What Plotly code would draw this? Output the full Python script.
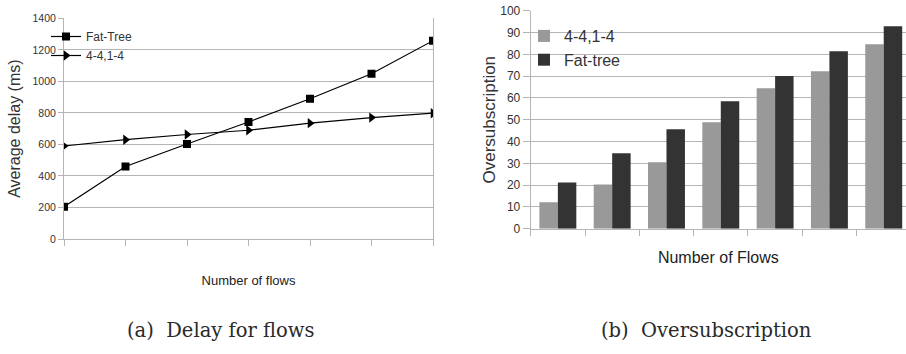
import plotly.graph_objects as go

# ---- data ----
flow_steps = [1, 2, 3, 4, 5, 6, 7]
delay_fat_tree = [205, 460, 603, 742, 890, 1048, 1258]
delay_441 = [590, 630, 663, 690, 735, 770, 798]

flow_cats = ["1", "2", "3", "4", "5", "6", "7"]
oversub_441 = [12.1, 20.3, 30.5, 48.8, 64.4, 72.2, 84.6]
oversub_fat_tree = [21.2, 34.6, 45.6, 58.5, 70.0, 81.4, 92.9]

W, H = 906, 354
GRID = "#b5b5b5"
SANS = "Liberation Sans, Arial"
SERIF = "DejaVu Serif"

fig = go.Figure()

# left: line chart
fig.add_trace(go.Scatter(
    x=flow_steps, y=delay_fat_tree, name="Fat-Tree", mode="lines+markers",
    line=dict(color="black", width=1.2),
    marker=dict(symbol="square", size=8, color="black"),
    xaxis="x", yaxis="y", legend="legend"))
fig.add_trace(go.Scatter(
    x=flow_steps, y=delay_441, name="4-4,1-4", mode="lines+markers",
    line=dict(color="black", width=1.2),
    marker=dict(symbol="triangle-right", size=9, color="black"),
    xaxis="x", yaxis="y", legend="legend"))

# right: bar chart
fig.add_trace(go.Bar(
    x=flow_cats, y=oversub_441, name="4-4,1-4", marker=dict(color="#999999", line=dict(width=0)),
    xaxis="x2", yaxis="y2", legend="legend2"))
fig.add_trace(go.Bar(
    x=flow_cats, y=oversub_fat_tree, name="Fat-tree", marker=dict(color="#333333", line=dict(width=0)),
    xaxis="x2", yaxis="y2", legend="legend2"))

fig.update_layout(
    width=W, height=H,
    margin=dict(l=0, r=0, t=0, b=0, autoexpand=False),
    paper_bgcolor="white", plot_bgcolor="white",
    barmode="group", bargap=0.32, bargroupgap=0,
    xaxis=dict(
        domain=[64 / W, 433 / W], range=[1, 7], dtick=1, tick0=1, anchor="y", automargin=False,
        showgrid=False, showticklabels=False, ticks="outside", ticklen=6,
        tickcolor=GRID, showline=True, linecolor=GRID, linewidth=1,
        zeroline=False,
        title=dict(text="Number of flows", font=dict(family=SANS, size=13, color="#222"), standoff=30),
    ),
    yaxis=dict(
        domain=[1 - 239 / H, 1 - 18.3 / H], range=[0, 1400], dtick=200, anchor="x", automargin=False,
        showgrid=True, gridcolor=GRID, gridwidth=1, zeroline=False,
        ticks="outside", ticklen=5, tickcolor=GRID,
        showline=True, linecolor=GRID, linewidth=1, mirror=True,
        tickfont=dict(family=SANS, size=10.5, color="#333"),
        title=dict(text="Average delay (ms)", font=dict(family=SANS, size=16, color="#333"), standoff=7),
    ),
    xaxis2=dict(
        domain=[530.7 / W, 1.0], type="category", range=[-0.5, 6.41], anchor="y2", automargin=False,
        tickson="boundaries", showgrid=False, showticklabels=False,
        ticks="outside", ticklen=6, tickcolor=GRID,
        showline=True, linecolor=GRID, linewidth=1,
        title=dict(text="Number of Flows", font=dict(family=SANS, size=16, color="#222"), standoff=23),
    ),
    yaxis2=dict(
        domain=[1 - 228.7 / H, 1 - 10.7 / H], range=[0, 100], dtick=10, anchor="x2", automargin=False,
        showgrid=True, gridcolor=GRID, gridwidth=1, zeroline=False,
        ticks="outside", ticklen=7, tickcolor=GRID,
        showline=True, linecolor=GRID, linewidth=1,
        tickfont=dict(family=SANS, size=12, color="#333"),
        title=dict(text="Oversubscription", font=dict(family=SANS, size=17, color="#333"), standoff=0),
    ),
    legend=dict(
        x=46 / W, y=1 - 22 / H, xanchor="left", yanchor="top",
        bgcolor="rgba(0,0,0,0)", itemwidth=30,
        font=dict(family=SANS, size=12, color="#333"), traceorder="normal",
    ),
    legend2=dict(
        x=524 / W, y=1 - 19 / H, xanchor="left", yanchor="top",
        bgcolor="rgba(0,0,0,0)", itemwidth=30,
        font=dict(family=SANS, size=16, color="#333"), traceorder="normal",
    ),
    annotations=[
        dict(text="(a)  Delay for flows", x=220.5 / W, y=1 - 330 / H, xref="paper", yref="paper",
             xanchor="center", yanchor="middle",
             showarrow=False, font=dict(family=SERIF, size=19.5, color="#2a2a2a")),
        dict(text="(b)  Oversubscription", x=706 / W, y=1 - 330 / H, xref="paper", yref="paper",
             xanchor="center", yanchor="middle",
             showarrow=False, font=dict(family=SERIF, size=19.5, color="#2a2a2a")),
    ],
)

fig.write_html("out.html", config={"displayModeBar": False},
               post_script="document.body.style.margin='0';document.body.style.padding='0';")
